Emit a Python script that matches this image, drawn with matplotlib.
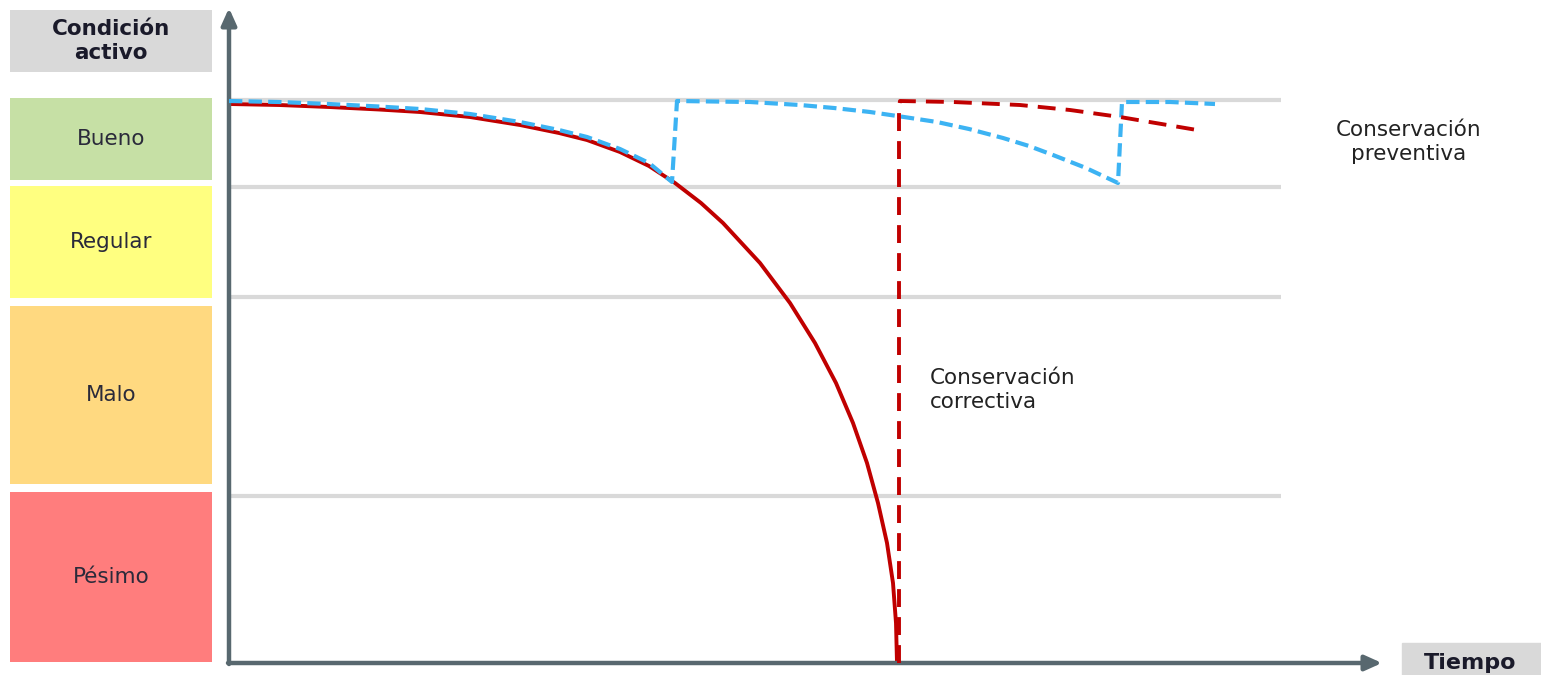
import matplotlib.pyplot as plt
from matplotlib.patches import Rectangle

plt.rcParams['font.family'] = 'DejaVu Sans'

# condition bands (left column), low / high on the condition scale
bandas = ['Bueno', 'Regular', 'Malo', 'Pésimo']
banda_bajo = [483, 365, 179, 1]
banda_alto = [565, 477, 357, 171]
banda_color = ['#c6e0a5', '#ffff80', '#ffd980', '#ff7d7d']

# horizontal reference levels
niveles = [563, 476, 366, 167]

# deterioration without conservation (red solid)
t_sin = [0, 50, 100, 150, 191, 241, 291, 330, 358, 391, 420, 446, 472, 494,
         531, 561, 586, 607, 624, 638, 649, 658, 664, 667, 668]
c_sin = [559, 558, 556, 553.5, 551, 546, 538, 530, 523, 511, 497, 480, 460, 440,
         400, 360, 320, 280, 240, 200, 160, 120, 80, 40, 0]

# preventive conservation (blue dashed)
t_prev = [0, 50, 100, 150, 191, 241, 291, 330, 358, 391, 420, 443, 448, 521,
          571, 605, 641, 675, 708, 740, 774, 800, 824, 857, 889, 893, 941, 986]
c_prev = [562, 561, 559, 556.5, 554, 549, 541, 533, 526, 514, 500, 481, 562, 561,
          558, 555, 551, 546, 541, 534, 525, 517, 508, 495, 480, 561, 561, 559]

# corrective conservation (red dashed)
t_corr = [670, 670, 671, 724, 791, 841, 891, 968]
c_corr = [0, 555, 562, 561, 558, 553, 546, 533]

W, H = 1541, 675
fig = plt.figure(figsize=(W / 100, H / 100), dpi=100)

ax = fig.add_axes([229 / W, 12 / H, 1312 / W, 663 / H])
ax.set_xlim(0, 1312)
ax.set_ylim(0, 663)
ax.axis('off')

for n in niveles:
    ax.plot([0, 1052], [n, n], color='#d9d9d9', lw=3, zorder=1,
            solid_capstyle='butt')

ax.plot(t_sin, c_sin, color='#c00000', lw=2.8, zorder=3)
ax.plot(t_prev, c_prev, color='#3cb3f3', lw=3, zorder=4,
        dashes=(3.2, 1.5))
ax.plot(t_corr, c_corr, color='#c00000', lw=2.8, zorder=4,
        dashes=(4.6, 2.6))

eje = '#58686f'
ax.annotate('', xy=(0, 655), xytext=(0, -1),
            arrowprops=dict(arrowstyle='-|>,head_length=1.0,head_width=0.45',
                            color=eje, lw=3.2, shrinkA=0, shrinkB=0),
            annotation_clip=False)
ax.annotate('', xy=(1153, 0), xytext=(-1, 0),
            arrowprops=dict(arrowstyle='-|>,head_length=1.0,head_width=0.45',
                            color=eje, lw=3.2, shrinkA=0, shrinkB=0),
            annotation_clip=False)

ax.text(701, 273, 'Conservación\ncorrectiva', fontsize=15.5, color='#222222',
        ha='left', va='center', linespacing=1.3)
ax.text(1180, 521, 'Conservación\npreventiva', fontsize=15.5, color='#222222',
        ha='center', va='center', linespacing=1.3)

ax.add_patch(Rectangle((1173, -12), 139, 32, color='#d9d9d9', clip_on=False,
                       zorder=0))
ax.text(1241, 0, 'Tiempo', fontsize=16, fontweight='bold', color='#1a1a2a',
        ha='center', va='center')

# left column
axl = fig.add_axes([0, 12 / H, 229 / W, 663 / H])
axl.set_xlim(0, 229)
axl.set_ylim(0, 663)
axl.axis('off')

alturas = [a - b for a, b in zip(banda_alto, banda_bajo)]
axl.bar([111] * 4, alturas, bottom=banda_bajo, width=202, color=banda_color)
for nombre, b, a in zip(bandas, banda_bajo, banda_alto):
    axl.text(111, (a + b) / 2, nombre, fontsize=15.5, color='#2a2a3a',
             ha='center', va='center')

axl.bar([111], [62], bottom=[591], width=202, color='#d9d9d9')
axl.text(111, 622, 'Condición\nactivo', fontsize=15.5, fontweight='bold',
         color='#1a1a2a', ha='center', va='center', linespacing=1.2)

fig.savefig('out.png', dpi=100)
